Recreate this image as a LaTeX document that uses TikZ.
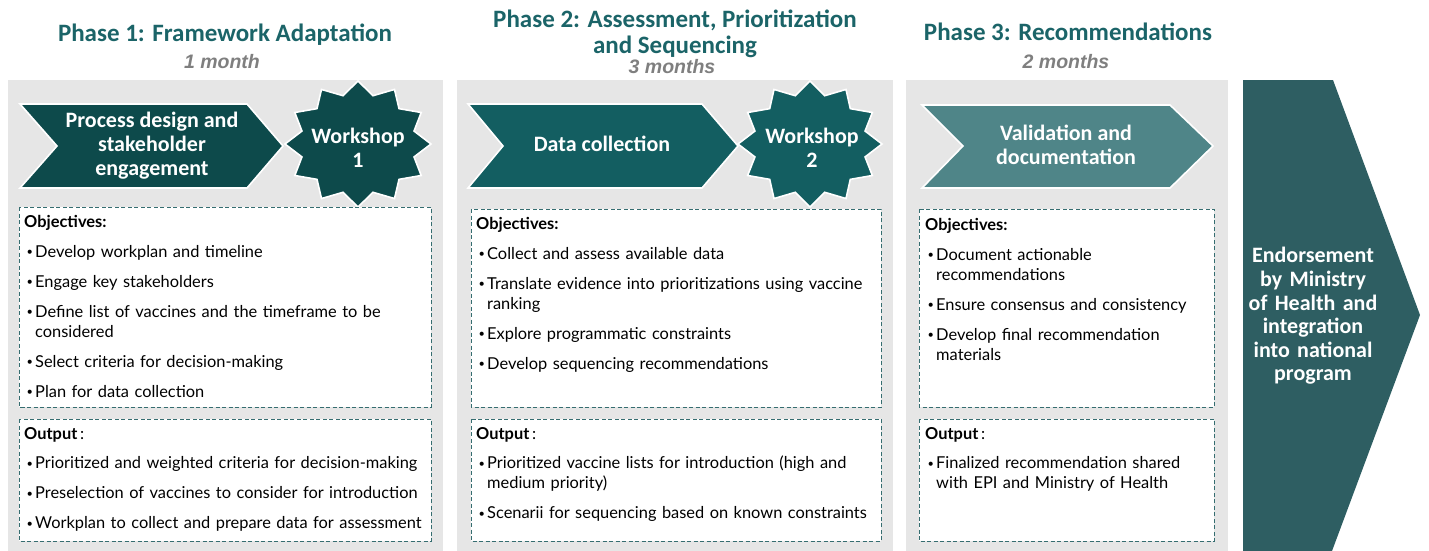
\documentclass[tikz,border=0pt]{standalone}
\usepackage{fontspec}
\setmainfont{Lato}
\newfontfamily\headfont{Carlito}
\newfontfamily\monthfont{Liberation Sans}
\usetikzlibrary{calc}

\definecolor{panelgray}{HTML}{E6E6E6}
\definecolor{titleteal}{HTML}{1B6468}
\definecolor{monthgray}{HTML}{7F7F7F}
\definecolor{phaseone}{HTML}{0D4A4B}
\definecolor{phasetwo}{HTML}{135E61}
\definecolor{phasethree}{HTML}{4F8588}
\definecolor{endorse}{HTML}{2E5E62}
\definecolor{dashteal}{HTML}{356D70}

\newcommand{\bul}{\makebox[11pt][l]{\hspace{2.5pt}\raisebox{1.5pt}{\fontsize{11}{11}\selectfont\textbullet}}}
\newcommand{\cont}{\hspace*{11pt}}

\tikzset{
  panel/.style={fill=panelgray},
  chev/.style={draw=white, line width=1.6pt, line join=miter},
  dashbox/.style={draw=dashteal, fill=white, line width=0.8pt, dash pattern=on 4pt off 2.5pt},
  phasetitle/.style={font=\headfont\bfseries\fontsize{25}{26}\selectfont, text=titleteal, align=center, inner sep=0pt, anchor=base},
  months/.style={font=\monthfont\bfseries\itshape\fontsize{19.5}{22}\selectfont, text=monthgray, inner sep=0pt, anchor=base},
  shapetext/.style={font=\headfont\bfseries\fontsize{22}{24}\selectfont, text=white, align=center, inner sep=0pt},
  listtext/.style={anchor=base west, text width=420pt, align=left, inner sep=0pt, font=\fontsize{16.4}{20}\selectfont},
}

\begin{document}
\begin{tikzpicture}[x=1pt, y=-1pt]
  \useasboundingbox (0,0) rectangle (1429,551);

  % --- Phase panels ---
  \fill[panel] (8,80) rectangle (443,551);
  \fill[panel] (457,80) rectangle (893,551);
  \fill[panel] (906,80) rectangle (1228,551);

  % --- Headings ---
  \node[phasetitle] (t1) at (225,41.5) {Phase 1: Framework Adaptation};
  \node[phasetitle] (t2) at (675,53.5) {Phase 2: Assessment, Prioritization\\and Sequencing};
  \node[phasetitle] (t3) at (1068,40.5) {Phase 3: Recommendations};
  \node[months] (m1) at (222,68.5) {1 month};
  \node[months] (m2) at (672,74) {3 months};
  \node[months] (m3) at (1066,69) {2 months};

  % --- Chevrons ---
  \draw[chev, fill=phaseone] (20,104) -- (247,104) -- (283,146) -- (247,188) -- (20,188) -- (57,146) -- cycle;
  \node[shapetext] (c1) at (152,146) {Process design and\\stakeholder\\engagement};
  \draw[chev, fill=phasetwo] (468,104) -- (702,104) -- (738,146) -- (702,188) -- (468,188) -- (503,146) -- cycle;
  \node[shapetext] (c2) at (602,144) {Data collection};
  \draw[chev, fill=phasethree] (922,105) -- (1170,105) -- (1213,146) -- (1170,188) -- (922,188) -- (963,146) -- cycle;
  \node[shapetext] (c3) at (1066,145) {Validation and\\documentation};

  % --- Workshop stars ---
  \coordinate (s1) at (358,144);
  \coordinate (s2) at (810,144);
  \draw[chev, fill=phaseone] ($(s1)+(0:73pt and 63pt)$)
    \foreach \i [evaluate=\i as \rx using {isodd(\i) ? 58 : 73}, evaluate=\i as \ry using {isodd(\i) ? 50 : 63}] in {1,...,23} { -- ($(s1)+(\i*15:\rx pt and \ry pt)$) } -- cycle;
  \draw[chev, fill=phasetwo] ($(s2)+(0:72pt and 63pt)$)
    \foreach \i [evaluate=\i as \rx using {isodd(\i) ? 57 : 72}, evaluate=\i as \ry using {isodd(\i) ? 50 : 63}] in {1,...,23} { -- ($(s2)+(\i*15:\rx pt and \ry pt)$) } -- cycle;
  \node[shapetext] (w1) at ($(s1)+(0,4)$) {Workshop\\1};
  \node[shapetext] (w2) at ($(s2)+(2,4)$) {Workshop\\2};

  % --- Endorsement arrow ---
  \fill[endorse] (1243,80) -- (1333,80) -- (1420,315) -- (1332,551) -- (1243,551) -- cycle;
  \node[shapetext, text width=150pt, font=\headfont\bfseries\fontsize{22}{23.6}\selectfont] (e) at (1313,316)
    {Endorsement\\by Ministry\\of Health and\\integration\\into national\\program};

  % --- Phase 1 boxes ---
  \draw[dashbox] (19,207) rectangle (431,407);
  \draw[dashbox] (19,419) rectangle (431,541);
  \node[listtext] (o1) at (24,227.5) {\textbf{Objectives:}\\[9.5pt]
    \bul Develop workplan and timeline\\[10pt]
    \bul Engage key stakeholders\\[10pt]
    \bul Define list of vaccines and the timeframe to be\\
    \cont considered\\[10pt]
    \bul Select criteria for decision-making\\[10pt]
    \bul Plan for data collection};
  \node[listtext] (u1) at (24,439) {\textbf{Output}\,:\\[9.5pt]
    \bul Prioritized and weighted criteria for decision-making\\[10pt]
    \bul Preselection of vaccines to consider for introduction\\[10pt]
    \bul Workplan to collect and prepare data for assessment};

  % --- Phase 2 boxes ---
  \draw[dashbox] (471,209) rectangle (881,407);
  \draw[dashbox] (471,419) rectangle (881,541);
  \node[listtext] (o2) at (476,229.5) {\textbf{Objectives:}\\[9.5pt]
    \bul Collect and assess available data\\[10pt]
    \bul Translate evidence into prioritizations using vaccine\\
    \cont ranking\\[10pt]
    \bul Explore programmatic constraints\\[10pt]
    \bul Develop sequencing recommendations};
  \node[listtext] (u2) at (476,439) {\textbf{Output}\,:\\[9.5pt]
    \bul Prioritized vaccine lists for introduction (high and\\
    \cont medium priority)\\[10pt]
    \bul Scenarii for sequencing based on known constraints};

  % --- Phase 3 boxes ---
  \draw[dashbox] (919,209) rectangle (1214,407);
  \draw[dashbox] (919,419) rectangle (1214,541);
  \node[listtext] (o3) at (925,230.5) {\textbf{Objectives:}\\[9.5pt]
    \bul Document actionable\\
    \cont recommendations\\[10pt]
    \bul Ensure consensus and consistency\\[10pt]
    \bul Develop final recommendation\\
    \cont materials};
  \node[listtext] (u3) at (925,439) {\textbf{Output}\,:\\[9.5pt]
    \bul Finalized recommendation shared\\
    \cont with EPI and Ministry of Health};

\end{tikzpicture}
\end{document}
